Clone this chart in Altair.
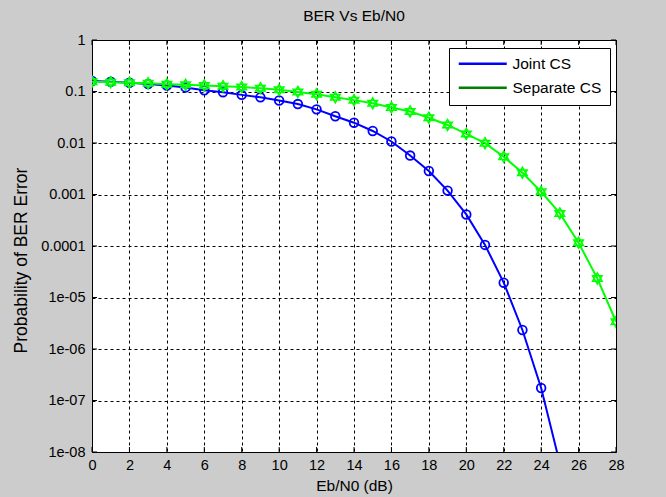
import altair as alt
import pandas as pd

# ---- data ----
snr_joint = list(range(0, 26))
ber_joint = [0.16, 0.155, 0.148, 0.14, 0.131, 0.12, 0.106, 0.097, 0.086, 0.077,
             0.067, 0.057, 0.045, 0.033, 0.0248, 0.0171, 0.0107, 0.0057, 0.00286,
             0.00119, 0.00041, 0.000105, 1.94e-5, 2.34e-6, 1.75e-7, 6e-9]
snr_sep = list(range(0, 29))
ber_sep = [0.155, 0.152, 0.148, 0.144, 0.139, 0.135, 0.131, 0.127, 0.122, 0.116,
           0.108, 0.098, 0.088, 0.077, 0.068, 0.059, 0.049, 0.041, 0.031, 0.0224,
           0.015, 0.0099, 0.0054, 0.00265, 0.00113, 0.00043, 0.000116, 2.35e-5, 3.4e-6]
series_names = ["Joint CS", "Separate CS"]
x_ticks = list(range(0, 29, 2))
y_ticks = [1, 0.1, 0.01, 0.001, 0.0001, 1e-5, 1e-6, 1e-7, 1e-8]

FONT = "Liberation Sans"
W, H = 524, 412

df_j = pd.DataFrame({"x": snr_joint, "y": ber_joint, "series": series_names[0]})
df_s = pd.DataFrame({"x": snr_sep, "y": ber_sep, "series": series_names[1]})
df_all = pd.concat([df_j, df_s], ignore_index=True)
df_xt = pd.DataFrame({"x": x_ticks})
df_yt = pd.DataFrame({"y": y_ticks})

xscale = alt.Scale(domain=[0, 28], nice=False, zero=False)
yscale = alt.Scale(type="log", domain=[1e-8, 1], nice=False)

xaxis = alt.Axis(values=x_ticks, title="Eb/N0 (dB)", grid=True, gridDash=[3, 3],
                 gridColor="black", gridOpacity=1, gridWidth=1, ticks=False, domain=False,
                 labelFont=FONT, labelFontSize=14.5, labelColor="black", labelPadding=6,
                 labelFlush=False,
                 titleFont=FONT, titleFontSize=15.5, titleFontWeight="normal",
                 titleColor="black", titlePadding=7)
yaxis = alt.Axis(values=y_ticks, title="Probability of BER Error", grid=True,
                 gridDash=[3, 3], gridColor="black", gridOpacity=1, gridWidth=1,
                 ticks=False, domain=False, labelFont=FONT, labelFontSize=14.5,
                 labelColor="black", labelPadding=7, labelFlush=False,
                 labelExpr="datum.value >= 0.0001 ? format(datum.value, '') : '1e-0' + round(-log(datum.value)/LN10)",
                 titleFont=FONT, titleFontSize=17.5, titleFontWeight="normal",
                 titleColor="black", titlePadding=10, titleY=220)


def X():
    return alt.X("x:Q", scale=xscale, axis=xaxis)


def Y():
    return alt.Y("y:Q", scale=yscale, axis=yaxis)


# legend-only layer (empty data, explicit domain)
legend_layer = alt.Chart(df_all).transform_filter("datum.x < 0").mark_line().encode(
    x=X(), y=Y(),
    color=alt.Color("series:N",
                    scale=alt.Scale(domain=series_names, range=["#0000FF", "#008000"]),
                    legend=alt.Legend(title=None, orient="none", legendX=357, legendY=8,
                                      symbolType="M-4,0H4", symbolSize=144,
                                      symbolStrokeWidth=2.5, symbolOffset=18,
                                      labelOffset=22, labelFont=FONT, labelFontSize=15.5,
                                      labelColor="black", padding=8, rowPadding=7,
                                      fillColor="white", strokeColor="black")))

blue_line = alt.Chart(df_j).mark_line(color="#0000FF", strokeWidth=2, clip=True).encode(
    x=X(), y=Y())
blue_pts = alt.Chart(df_j).mark_point(shape="circle", filled=False, color="#0000FF",
                                      size=75, strokeWidth=1.8, opacity=1, clip=True).encode(
    x=X(), y=Y())

hexagram = "M0,-1L0.866,0.5L-0.866,0.5Z M0,1L0.866,-0.5L-0.866,-0.5Z"
green_line = alt.Chart(df_s).mark_line(color="#00FF00", strokeWidth=2, clip=True).encode(
    x=X(), y=Y())
green_pts = alt.Chart(df_s).mark_point(shape=hexagram, filled=False, color="#00FF00",
                                       size=121, strokeWidth=1.5, opacity=1, clip=True).encode(
    x=X(), y=Y())

# inward tick marks on all four sides
xt_bottom = alt.Chart(df_xt).mark_rule(color="black").encode(
    x=X(), y=alt.value(H), y2=alt.value(H - 5))
xt_top = alt.Chart(df_xt).mark_rule(color="black").encode(
    x=X(), y=alt.value(0), y2=alt.value(5))
yt_left = alt.Chart(df_yt).mark_rule(color="black").encode(
    y=Y(), x=alt.value(0), x2=alt.value(5))
yt_right = alt.Chart(df_yt).mark_rule(color="black").encode(
    y=Y(), x=alt.value(W), x2=alt.value(W - 5))

chart = alt.layer(
    legend_layer, xt_bottom, xt_top, yt_left, yt_right,
    blue_line, blue_pts, green_line, green_pts
).properties(
    width=W, height=H,
    title=alt.TitleParams("BER Vs Eb/N0", font=FONT, fontSize=15.5, fontWeight="normal",
                          color="black", offset=8),
    autosize=alt.AutoSizeParams(type="none"),
    padding={"left": 92, "top": 40, "right": 50, "bottom": 45},
).configure(background="#CCCCCC").configure_view(
    fill="white", stroke="black", strokeWidth=1)

chart.save("out.html", embed_options={"renderer": "svg", "actions": False})
